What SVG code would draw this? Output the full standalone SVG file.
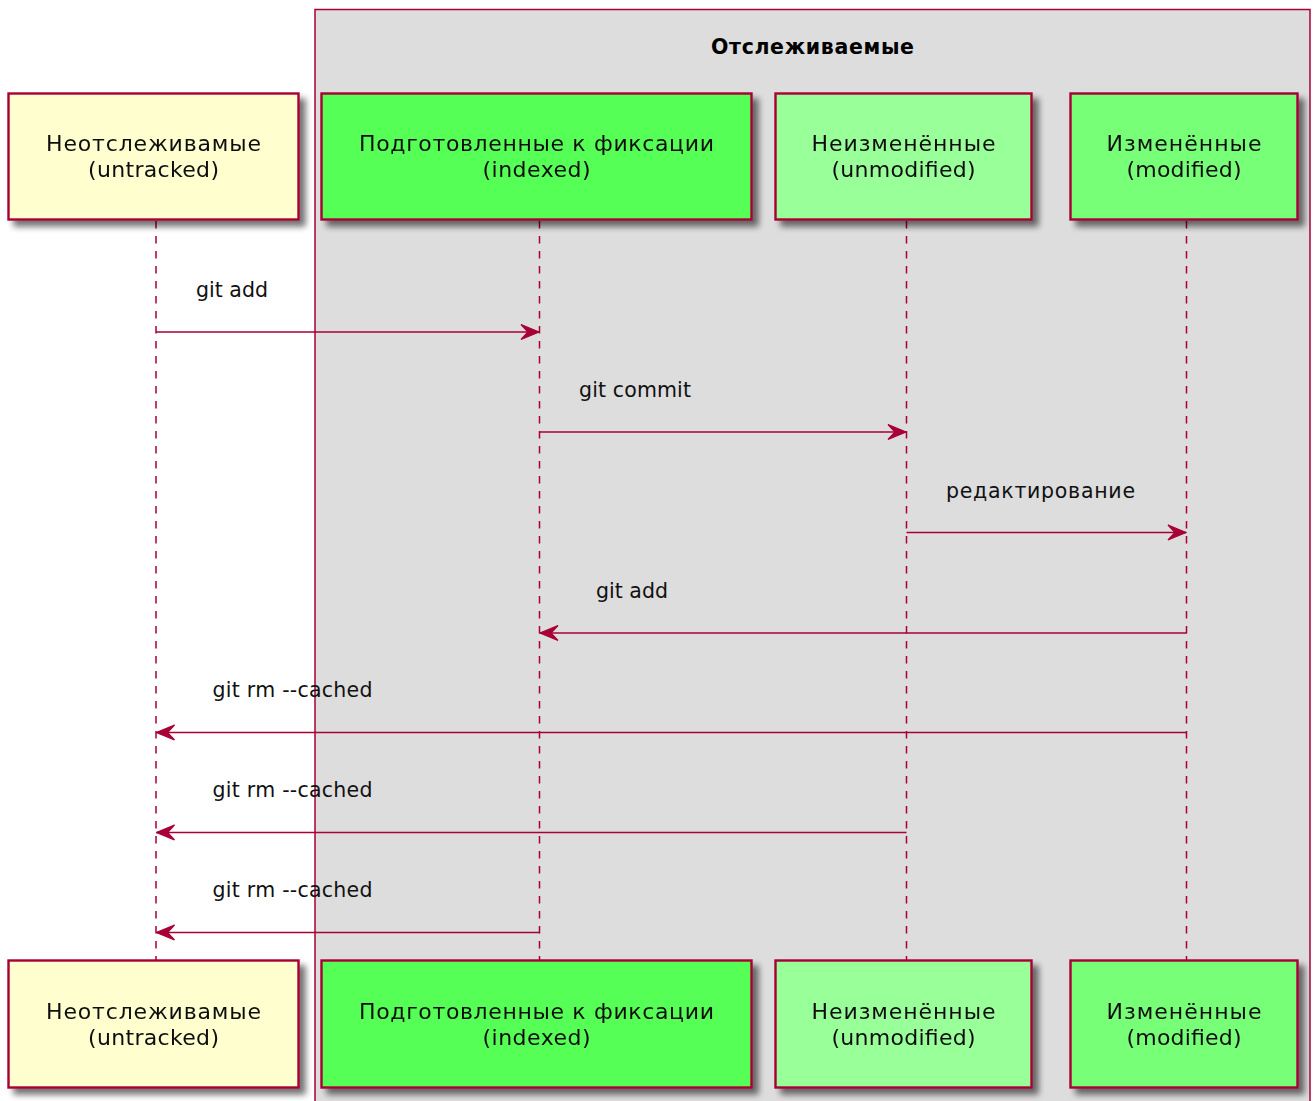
<svg xmlns="http://www.w3.org/2000/svg" width="1313" height="1101" viewBox="0 0 1313 1101">
<defs>
<filter id="sh" x="-10%" y="-10%" width="130%" height="140%">
<feGaussianBlur in="SourceAlpha" stdDeviation="3"/>
<feOffset dx="6" dy="6" result="b"/>
<feComponentTransfer><feFuncA type="linear" slope="0.55"/></feComponentTransfer>
<feMerge><feMergeNode/><feMergeNode in="SourceGraphic"/></feMerge>
</filter>
<marker id="ah" viewBox="0 0 20 18" refX="19" refY="9" markerWidth="20" markerHeight="18" markerUnits="userSpaceOnUse" orient="auto">
<polygon points="1,1.5 19,9 1,16.5 8,9" fill="#A80036" stroke="#A80036" stroke-width="1.2" stroke-linejoin="miter"/>
</marker>
</defs>
<style>
.part{stroke:#A80036;stroke-width:2.4}
.pt{font-family:"DejaVu Sans","Liberation Sans",sans-serif;font-size:22px;fill:#111;text-anchor:middle}
.lbl{font-family:"DejaVu Sans","Liberation Sans",sans-serif;font-size:20.5px;fill:#111}
.life{stroke:#A80036;stroke-width:1.5;stroke-dasharray:7.5,7.5;fill:none}
.msg{stroke:#A80036;stroke-width:1.6;fill:none;marker-end:url(#ah)}
.u{fill:#FEFECE}.i{fill:#55FF55}.n{fill:#99FF99}.m{fill:#77FF77}
</style>
<rect width="1313" height="1101" fill="#FFFFFF"/>
<g id="box-tracked">
<rect x="315" y="9.5" width="995" height="1110" fill="#DDDDDD" stroke="#A80036" stroke-width="1.5"/>
<text x="812.5" y="54" font-family="DejaVu Sans, Liberation Sans, sans-serif" font-size="20.5" font-weight="bold" text-anchor="middle" textLength="203" lengthAdjust="spacing">Отслеживаемые</text>
</g>
<g id="lifelines">
<line class="life" x1="156" y1="221" x2="156" y2="960"/>
<line class="life" x1="539.5" y1="221" x2="539.5" y2="960"/>
<line class="life" x1="906.5" y1="221" x2="906.5" y2="960"/>
<line class="life" x1="1186.5" y1="221" x2="1186.5" y2="960"/>
</g>
<g id="untracked-top" filter="url(#sh)">
<rect class="part u" x="8.5" y="93.5" width="290" height="126"/>
<text class="pt" x="153.5" y="151" textLength="215" lengthAdjust="spacing">Неотслеживамые</text>
<text class="pt" x="153.5" y="177" textLength="131" lengthAdjust="spacing">(untracked)</text>
</g>
<g id="indexed-top" filter="url(#sh)">
<rect class="part i" x="321.5" y="93.5" width="430" height="126"/>
<text class="pt" x="536.5" y="151" textLength="355" lengthAdjust="spacing">Подготовленные к фиксации</text>
<text class="pt" x="536.5" y="177" textLength="108" lengthAdjust="spacing">(indexed)</text>
</g>
<g id="unmodified-top" filter="url(#sh)">
<rect class="part n" x="775.5" y="93.5" width="256" height="126"/>
<text class="pt" x="903.5" y="151" textLength="184" lengthAdjust="spacing">Неизменённые</text>
<text class="pt" x="903.5" y="177" textLength="144" lengthAdjust="spacing">(unmodified)</text>
</g>
<g id="modified-top" filter="url(#sh)">
<rect class="part m" x="1070.5" y="93.5" width="227" height="126"/>
<text class="pt" x="1184" y="151" textLength="155" lengthAdjust="spacing">Изменённые</text>
<text class="pt" x="1184" y="177" textLength="115" lengthAdjust="spacing">(modified)</text>
</g>
<g id="untracked-bottom" filter="url(#sh)">
<rect class="part u" x="8.5" y="960.5" width="290" height="127"/>
<text class="pt" x="153.5" y="1019" textLength="215" lengthAdjust="spacing">Неотслеживамые</text>
<text class="pt" x="153.5" y="1045" textLength="131" lengthAdjust="spacing">(untracked)</text>
</g>
<g id="indexed-bottom" filter="url(#sh)">
<rect class="part i" x="321.5" y="960.5" width="430" height="127"/>
<text class="pt" x="536.5" y="1019" textLength="355" lengthAdjust="spacing">Подготовленные к фиксации</text>
<text class="pt" x="536.5" y="1045" textLength="108" lengthAdjust="spacing">(indexed)</text>
</g>
<g id="unmodified-bottom" filter="url(#sh)">
<rect class="part n" x="775.5" y="960.5" width="256" height="127"/>
<text class="pt" x="903.5" y="1019" textLength="184" lengthAdjust="spacing">Неизменённые</text>
<text class="pt" x="903.5" y="1045" textLength="144" lengthAdjust="spacing">(unmodified)</text>
</g>
<g id="modified-bottom" filter="url(#sh)">
<rect class="part m" x="1070.5" y="960.5" width="227" height="127"/>
<text class="pt" x="1184" y="1019" textLength="155" lengthAdjust="spacing">Изменённые</text>
<text class="pt" x="1184" y="1045" textLength="115" lengthAdjust="spacing">(modified)</text>
</g>
<g id="connectors">
<line class="msg" x1="156" y1="332" x2="539" y2="332"/>
<line class="msg" x1="539.5" y1="432" x2="906" y2="432"/>
<line class="msg" x1="906.5" y1="532.5" x2="1186" y2="532.5"/>
<line class="msg" x1="1186.5" y1="633" x2="540" y2="633"/>
<line class="msg" x1="1186.5" y1="732.5" x2="156.5" y2="732.5"/>
<line class="msg" x1="906.5" y1="832.5" x2="156.5" y2="832.5"/>
<line class="msg" x1="539.5" y1="932.5" x2="156.5" y2="932.5"/>
<text class="lbl" x="196" y="297" textLength="72" lengthAdjust="spacing">git add</text>
<text class="lbl" x="579" y="397" textLength="112" lengthAdjust="spacing">git commit</text>
<text class="lbl" x="946" y="498" textLength="189" lengthAdjust="spacing">редактирование</text>
<text class="lbl" x="596" y="598" textLength="72" lengthAdjust="spacing">git add</text>
<text class="lbl" x="212.5" y="697" textLength="160" lengthAdjust="spacing">git rm --cached</text>
<text class="lbl" x="212.5" y="797" textLength="160" lengthAdjust="spacing">git rm --cached</text>
<text class="lbl" x="212.5" y="897" textLength="160" lengthAdjust="spacing">git rm --cached</text>
</g>
</svg>
